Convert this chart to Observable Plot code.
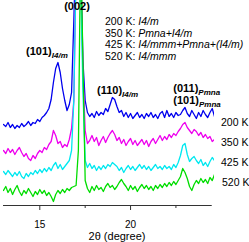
<!DOCTYPE html>
<html>
<head>
<meta charset="utf-8">
<script src="https://cdn.jsdelivr.net/npm/d3@7"></script>
<script src="https://cdn.jsdelivr.net/npm/@observablehq/plot@0.6"></script>
<style>
  html, body { margin: 0; padding: 0; background: #fff; overflow: hidden; }
  svg { display: block; }
</style>
</head>
<body>
<div id="chart"></div>
<script>
// 2θ sample positions (degree)
const twoTheta = [
  13,13.125,13.25,13.375,13.5,13.625,13.75,13.875,
  14,14.125,14.25,14.375,14.5,14.625,14.75,14.875,
  15,15.125,15.25,15.375,15.5,15.625,15.75,15.875,
  16,16.125,16.25,16.375,16.5,16.625,16.75,16.875,
  17,17.125,17.25,17.375,17.5,17.625,17.75,17.875,
  18,18.125,18.25,18.375,18.5,18.625,18.75,18.875,
  19,19.125,19.25,19.375,19.5,19.625,19.75,19.875,
  20,20.125,20.25,20.375,20.5,20.625,20.75,20.875,
  21,21.125,21.25,21.375,21.5,21.625,21.75,21.875,
  22,22.125,22.25,22.375,22.5,22.625,22.75,22.875,
  23,23.125,23.25,23.375,23.5,23.625,23.75,23.875,
  24,24.125,24.25,24.375,24.5,24.625
];

// intensity (offset, arb. units) for each temperature
const i200 = [81,79,83,78,81,77,80,78,82,79,81,84,80,83,82,86,84,88,90,93,97,106,123,137,143,133,117,105,95,101,113,185,265,285,245,145,105,93,89,92,88,94,90,93,91,97,94,101,108,106,99,93,95,89,93,88,92,87,90,93,88,91,87,92,89,93,88,91,87,92,94,88,95,89,92,88,93,90,91,95,98,92,89,95,91,87,93,89,95,91,88,93,97,89];
const i350 = [55,52,57,53,56,51,55,58,53,49,52,47,45,50,47,52,55,53,58,56,61,64,75,70,62,64,58,61,59,66,77,105,245,265,235,135,75,62,65,70,64,68,60,65,69,63,68,72,75,71,65,68,62,66,60,64,67,61,65,60,63,66,61,65,59,64,67,62,66,70,65,69,66,71,68,72,70,74,77,81,83,78,75,72,76,74,70,73,68,71,67,69,64,66];
const i425 = [34,31,35,32,29,33,30,34,29,27,32,29,33,31,35,32,36,33,37,34,38,35,40,43,37,41,36,39,42,45,55,105,235,255,225,115,45,38,42,37,40,35,39,36,40,37,41,39,43,41,39,35,38,33,37,40,36,39,35,38,41,37,40,36,39,35,38,41,37,39,36,40,37,39,36,41,38,43,50,60,62,51,44,47,49,45,42,46,40,43,39,44,48,45];
const i520 = [15,19,13,17,11,16,20,14,10,15,12,17,13,9,14,11,16,12,15,10,13,9,4,11,15,12,16,13,17,15,18,19,20,55,265,145,25,17,13,19,15,20,16,18,14,19,22,18,20,16,19,23,26,22,19,15,20,16,19,14,18,21,17,20,16,19,15,20,17,21,18,22,19,23,20,24,21,25,29,37,33,27,19,15,21,25,22,27,23,26,22,28,25,31];

const seriesNames = ["200 K", "350 K", "425 K", "520 K"];
const seriesColors = ["#0000ee", "#ee00ee", "#00e8f0", "#00dd00"];
const phaseNames = ["I4/m", "Pmna+I4/m", "I4/mmm+Pmna+(I4/m)", "I4/mmm"];
const xTicks = [15, 20];
const xMinorTicks = [17.5, 22.5];
const axisLabel = "2θ (degree)";

// peak annotations: [hkl, phase, 2θ, intensity]
const peakHkl = ["(101)", "(110)", "(011)", "(101)"];
const peakPhase = ["I4/m", "I4/m", "Pmna", "Pmna"];
const peakX = [14.27, 18.18, 22.38, 22.38];
const peakY = [150, 111, 113, 101];
const mainPeak = "(002)";
const mainPeakX = 17.08;
const mainPeakY = 195;

const seriesValues = [i200, i350, i425, i520];
const rows = [];
seriesValues.forEach((vals, s) => vals.forEach((v, i) => rows.push({series: seriesNames[s], x: twoTheta[i], v})));

const font = "'Liberation Sans', Arial, Helvetica, sans-serif";

const chart = Plot.plot({
  width: 249,
  height: 242,
  marginTop: 0,
  marginBottom: 37,
  marginLeft: 3,
  marginRight: 35,
  x: {domain: [13, 24.625]},
  y: {domain: [0, 205], axis: null},
  style: {fontFamily: font, background: "#fff", color: "#000", overflow: "visible"},
  marks: [
    Plot.ruleY([0], {x1: 13, x2: 24.5, stroke: "#333", strokeWidth: 1}),
    Plot.axisX({ticks: xTicks, tickSize: 5, tickPadding: 10, fontSize: 10, label: null, stroke: "#333"}),
    Plot.axisX({ticks: xMinorTicks, tickSize: 3, tickFormat: () => "", label: null, stroke: "#333"}),
    ...seriesNames.map((name, s) =>
      Plot.line(rows.filter(d => d.series === name), {x: "x", y: "v", stroke: seriesColors[s], strokeWidth: 1.3, clip: true})
    )
  ]
});

document.getElementById("chart").appendChild(chart);

const sx = chart.scale("x");
const sy = chart.scale("y");
const svg = d3.select(chart);
const g = svg.append("g").attr("font-family", font).attr("fill", "#000").attr("text-anchor", "start");

// main peak label
g.append("text").attr("x", sx.apply(mainPeakX)).attr("y", sy.apply(mainPeakY))
  .attr("text-anchor", "middle").attr("font-weight", "bold").attr("font-size", 11).text(mainPeak);

// indexed peak labels with phase subscripts
peakHkl.forEach((h, k) => {
  const t = g.append("text").attr("x", sx.apply(peakX[k])).attr("y", sy.apply(peakY[k]))
    .attr("font-weight", "bold").attr("font-size", 11);
  t.append("tspan").text(h);
  t.append("tspan").attr("font-size", 8).attr("font-style", "italic").attr("dy", 2.5).text(peakPhase[k]);
});

// legend of phases
phaseNames.forEach((p, k) => {
  const t = g.append("text").attr("x", 105).attr("y", 25 + k * 11.5).attr("font-size", 10.5);
  t.append("tspan").text(seriesNames[k] + ": ");
  t.append("tspan").attr("font-style", "italic").text(p);
});

// temperature labels at right
const rightLabelX = [221, 221, 221, 222];
seriesNames.forEach((n, k) => {
  g.append("text").attr("x", rightLabelX[k]).attr("y", 126 + k * 20).attr("font-size", 10.5).text(n);
});

// x axis title
g.append("text").attr("x", 117).attr("y", 240).attr("text-anchor", "middle").attr("font-size", 11).text(axisLabel);
</script>
</body>
</html>
